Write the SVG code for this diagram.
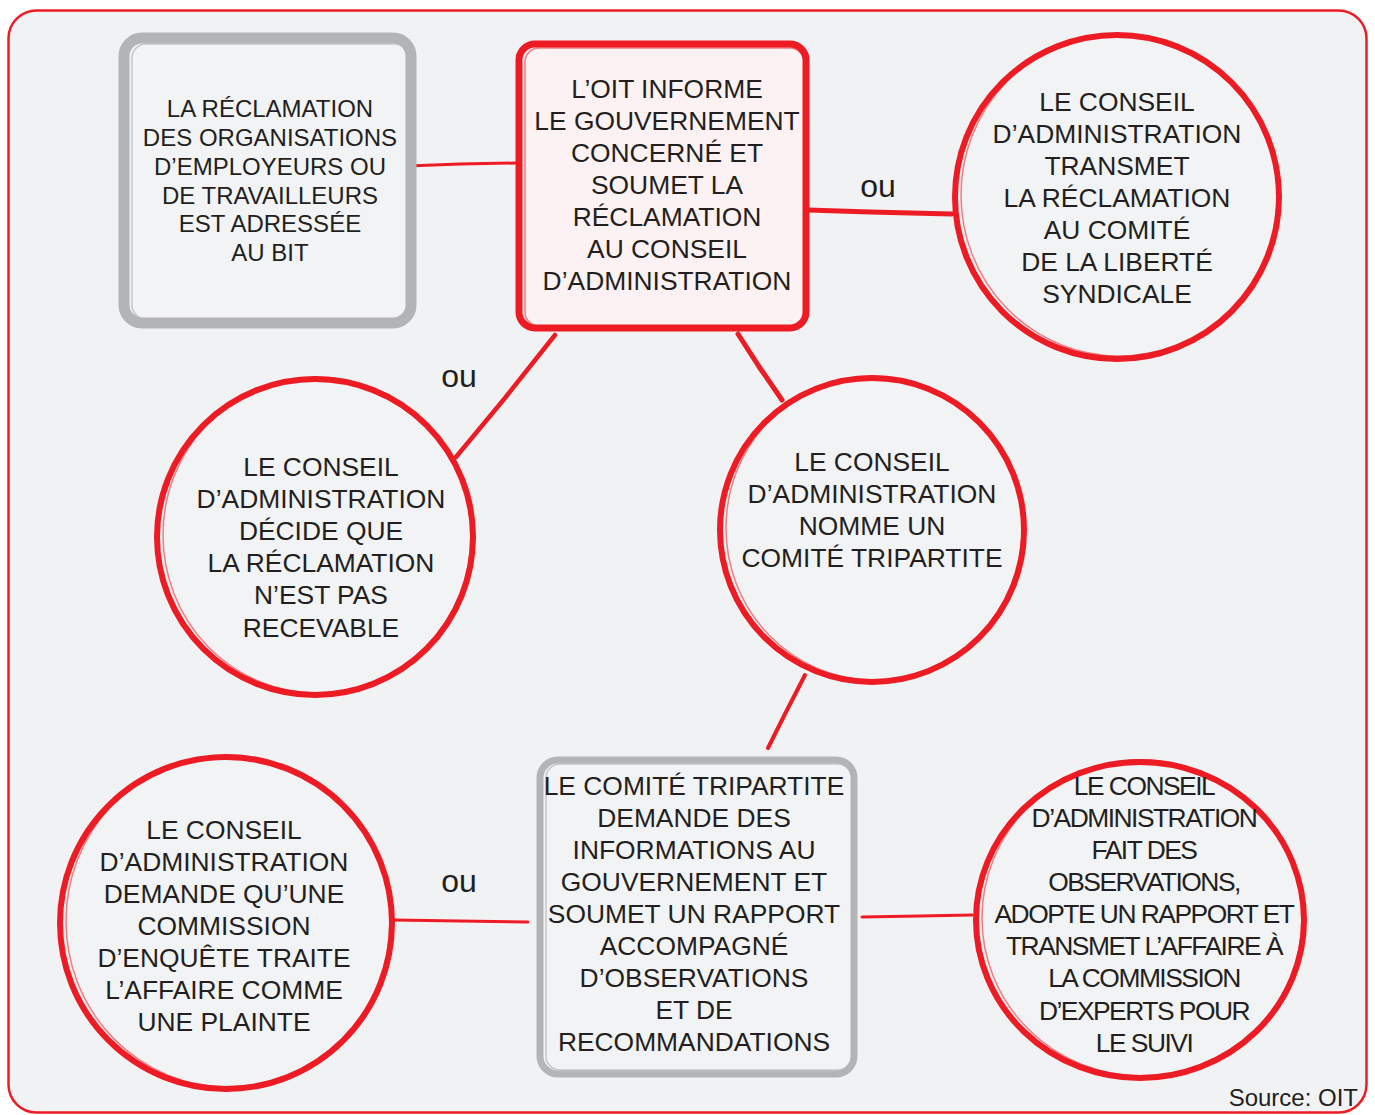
<svg xmlns="http://www.w3.org/2000/svg" width="1375" height="1115" viewBox="0 0 1375 1115">
<defs>
<style>
.t{font-family:"Liberation Sans",Arial,sans-serif;font-size:26.4px;fill:#231f20;text-anchor:middle}
.s{font-size:24px}
.c{letter-spacing:-1.5px}
.ou{font-family:"Liberation Sans",Arial,sans-serif;font-size:32px;fill:#231f20;text-anchor:middle}
.rc{fill:#f2f3f5;stroke:#ed1c24;stroke-width:6}
.rc2{fill:none;stroke:#ed1c24;stroke-width:1.5;opacity:.55}
.gr{fill:#f2f3f5;stroke:#b3b4b6}
.gr2{fill:none;stroke:#b3b4b6;stroke-width:1.5;opacity:.7}
.ln{fill:none;stroke:#ed1c24;stroke-linecap:round}
</style>
</defs>
<rect x="0" y="0" width="1375" height="1115" fill="#ffffff"/>
<rect x="8.5" y="10.5" width="1358" height="1102" rx="28" fill="#f1f2f4" stroke="#ed1c24" stroke-width="2.5"/>

<g id="connectors">
<path class="ln" stroke-width="3" d="M407 166 L460 164 L516 163"/>
<path class="ln" stroke-width="5" d="M808 210 L870 212 L952 214"/>
<path class="ln" stroke-width="4.5" d="M555 335 L505 398 L456 457"/>
<path class="ln" stroke-width="5" d="M738 334 L760 368 L782 400"/>
<path class="ln" stroke-width="4" d="M805 675 L786 712 L768 748"/>
<path class="ln" stroke-width="3" d="M393 920 L460 921 L528 922"/>
<path class="ln" stroke-width="3" d="M862 917 L920 916 L972 915"/>
</g>

<g id="n1">
<rect class="gr" x="124" y="38" width="287" height="285" rx="18" stroke-width="11"/>
<rect class="gr2" x="132" y="44" width="277" height="275" rx="14"/>
<text class="t s"><tspan x="270" y="117">LA RÉCLAMATION</tspan><tspan x="270" y="146">DES ORGANISATIONS</tspan><tspan x="270" y="175">D’EMPLOYEURS OU</tspan><tspan x="270" y="204">DE TRAVAILLEURS</tspan><tspan x="270" y="232">EST ADRESSÉE</tspan><tspan x="270" y="261">AU BIT</tspan></text>
</g>

<g id="n2">
<rect x="519" y="44" width="287" height="284" rx="16" fill="#fcf2f3" stroke="#ed1c24" stroke-width="7"/>
<rect class="rc2" x="525" y="48" width="279" height="278" rx="14"/>
<text class="t"><tspan x="667" y="98">L’OIT INFORME</tspan><tspan x="667" y="130">LE GOUVERNEMENT</tspan><tspan x="667" y="162">CONCERNÉ ET</tspan><tspan x="667" y="194">SOUMET LA</tspan><tspan x="667" y="226">RÉCLAMATION</tspan><tspan x="667" y="258">AU CONSEIL</tspan><tspan x="667" y="290">D’ADMINISTRATION</tspan></text>
</g>

<g id="n3">
<circle class="rc" cx="1117" cy="197" r="162"/>
<ellipse class="rc2" cx="1119" cy="195" rx="158" ry="161"/>
<text class="t"><tspan x="1117" y="111">LE CONSEIL</tspan><tspan x="1117" y="143">D’ADMINISTRATION</tspan><tspan x="1117" y="175">TRANSMET</tspan><tspan x="1117" y="207">LA RÉCLAMATION</tspan><tspan x="1117" y="239">AU COMITÉ</tspan><tspan x="1117" y="271">DE LA LIBERTÉ</tspan><tspan x="1117" y="303">SYNDICALE</tspan></text>
</g>

<g id="n4">
<circle class="rc" cx="315" cy="537" r="158"/>
<ellipse class="rc2" cx="317" cy="535" rx="154" ry="158"/>
<text class="t"><tspan x="321" y="476">LE CONSEIL</tspan><tspan x="321" y="508">D’ADMINISTRATION</tspan><tspan x="321" y="540">DÉCIDE QUE</tspan><tspan x="321" y="572">LA RÉCLAMATION</tspan><tspan x="321" y="604">N’EST PAS</tspan><tspan x="321" y="637">RECEVABLE</tspan></text>
</g>

<g id="n5">
<circle class="rc" cx="872" cy="530" r="152"/>
<ellipse class="rc2" cx="874" cy="528" rx="148" ry="152"/>
<text class="t"><tspan x="872" y="471">LE CONSEIL</tspan><tspan x="872" y="503">D’ADMINISTRATION</tspan><tspan x="872" y="535">NOMME UN</tspan><tspan x="872" y="567">COMITÉ TRIPARTITE</tspan></text>
</g>

<g id="n6">
<rect class="gr" x="540" y="760" width="314" height="314" rx="18" stroke-width="7"/>
<rect class="gr2" x="546" y="764" width="306" height="306" rx="14"/>
<text class="t"><tspan x="694" y="795">LE COMITÉ TRIPARTITE</tspan><tspan x="694" y="827">DEMANDE DES</tspan><tspan x="694" y="859">INFORMATIONS AU</tspan><tspan x="694" y="891">GOUVERNEMENT ET</tspan><tspan x="694" y="923">SOUMET UN RAPPORT</tspan><tspan x="694" y="955">ACCOMPAGNÉ</tspan><tspan x="694" y="987">D’OBSERVATIONS</tspan><tspan x="694" y="1019">ET DE</tspan><tspan x="694" y="1051">RECOMMANDATIONS</tspan></text>
</g>

<g id="n7">
<circle class="rc" cx="226" cy="923" r="166"/>
<ellipse class="rc2" cx="228" cy="921" rx="162" ry="166"/>
<text class="t"><tspan x="224" y="839">LE CONSEIL</tspan><tspan x="224" y="871">D’ADMINISTRATION</tspan><tspan x="224" y="903">DEMANDE QU’UNE</tspan><tspan x="224" y="935">COMMISSION</tspan><tspan x="224" y="967">D’ENQUÊTE TRAITE</tspan><tspan x="224" y="999">L’AFFAIRE COMME</tspan><tspan x="224" y="1031">UNE PLAINTE</tspan></text>
</g>

<g id="n8">
<ellipse class="rc" cx="1140" cy="920" rx="164" ry="158"/>
<ellipse class="rc2" cx="1142" cy="918" rx="160" ry="158"/>
<text class="t c"><tspan x="1144" y="795">LE CONSEIL</tspan><tspan x="1144" y="827">D’ADMINISTRATION</tspan><tspan x="1144" y="859">FAIT DES</tspan><tspan x="1144" y="891">OBSERVATIONS,</tspan><tspan x="1144" y="923">ADOPTE UN RAPPORT ET</tspan><tspan x="1144" y="955">TRANSMET L’AFFAIRE À</tspan><tspan x="1144" y="987">LA COMMISSION</tspan><tspan x="1144" y="1020">D’EXPERTS POUR</tspan><tspan x="1144" y="1052">LE SUIVI</tspan></text>
</g>

<g id="labels">
<text class="ou" x="878" y="197">ou</text>
<text class="ou" x="459" y="387">ou</text>
<text class="ou" x="459" y="892">ou</text>
<text class="t s" x="1358" y="1106" style="text-anchor:end">Source: OIT</text>
</g>
</svg>
